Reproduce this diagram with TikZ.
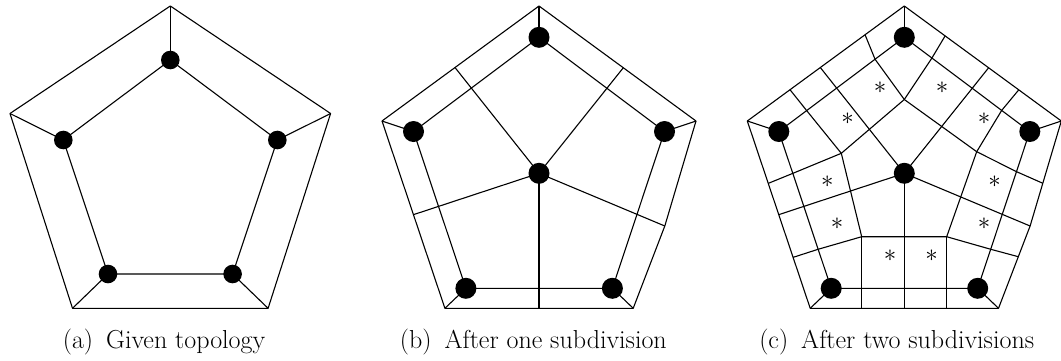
\documentclass[tikz,border=0pt]{standalone}
\usepackage{fontspec}
\usetikzlibrary{calc}
\tikzset{
  edge/.style={line width=1.1pt, line join=round},
  dotA/.style={circle, fill=black, inner sep=0pt, minimum size=18.6pt},
  dotB/.style={circle, fill=black, inner sep=0pt, minimum size=21pt},
  captext/.style={anchor=base, font=\fontsize{26}{30}\selectfont, inner sep=0pt},
  astx/.style={font=\fontsize{26}{30}\selectfont, inner sep=0pt},
}
\newcommand\meshbase[2]{%
  \begin{scope}[xshift=#2pt]
    \coordinate (#1Ot) at (0,6);
    \coordinate (#1OL) at (-157,121);
    \coordinate (#1OR) at (157,121);
    \coordinate (#1OBL) at (-94.1,308.3);
    \coordinate (#1OBR) at (94.2,308.3);
    \coordinate (#1MR) at (125.8,226);
    \coordinate (#1MB) at (0,308.3);
    \coordinate (#1Dt) at (0,37.3);
    \coordinate (#1DL) at (-125.5,131.5);
    \coordinate (#1DR) at (125.5,131.5);
    \coordinate (#1DBL) at (-73.1,288.3);
    \coordinate (#1DBR) at (73.4,288.3);
    \coordinate (#1C) at (0,173.3);
  \end{scope}
  \coordinate (#1MTL) at ($(#1Ot)!0.535!(#1OL)$);
  \coordinate (#1MTR) at ($(#1Ot)!0.537!(#1OR)$);
  \coordinate (#1ML) at ($(#1OL)!0.5!(#1OBL)$);
  \draw[edge] (#1Ot) -- (#1OR) -- (#1MR) -- (#1OBR) -- (#1OBL) -- (#1OL) -- cycle;
  \draw[edge] (#1Dt) -- (#1DR) -- (#1DBR) -- (#1DBL) -- (#1DL) -- cycle;
  \draw[edge] (#1Ot) -- (#1Dt);
  \draw[edge] (#1OL) -- (#1DL);
  \draw[edge] (#1OR) -- (#1DR);
  \draw[edge] (#1OBL) -- (#1DBL);
  \draw[edge] (#1OBR) -- (#1DBR);
  \draw[edge] (#1C) -- (#1MTL);
  \draw[edge] (#1C) -- (#1MTR);
  \draw[edge] (#1C) -- (#1ML);
  \draw[edge] (#1C) -- (#1MR);
  \draw[edge] (#1C) -- (#1MB);
}
\newcommand\meshdots[1]{%
  \node[dotB] (#1dotC) at (#1C) {};
  \node[dotB] (#1dott) at (#1Dt) {};
  \node[dotB] (#1dotL) at (#1DL) {};
  \node[dotB] (#1dotR) at (#1DR) {};
  \node[dotB] (#1dotBL) at (#1DBL) {};
  \node[dotB] (#1dotBR) at (#1DBR) {};
}
\begin{document}
\begin{tikzpicture}[x=1pt,y=-1pt]
\useasboundingbox (0,0) rectangle (1061,360);

% ---------- panel (a)
\begin{scope}[xshift=170.3pt]
  \coordinate (aOt) at (0,6);
  \coordinate (aOL) at (-160.3,113.5);
  \coordinate (aOR) at (160.3,113.5);
  \coordinate (aOBL) at (-97.8,308.3);
  \coordinate (aOBR) at (97.8,308.3);
  \coordinate (aDt) at (0,60);
  \coordinate (aDL) at (-107,140);
  \coordinate (aDR) at (107,140);
  \coordinate (aDBL) at (-62.3,274);
  \coordinate (aDBR) at (62.3,274);
\end{scope}
\draw[edge] (aOt) -- (aOR) -- (aOBR) -- (aOBL) -- (aOL) -- cycle;
\draw[edge] (aDt) -- (aDR) -- (aDBR) -- (aDBL) -- (aDL) -- cycle;
\draw[edge] (aOt) -- (aDt);
\draw[edge] (aOL) -- (aDL);
\draw[edge] (aOR) -- (aDR);
\draw[edge] (aOBL) -- (aDBL);
\draw[edge] (aOBR) -- (aDBR);
\node[dotA] (adott) at (aDt) {};
\node[dotA] (adotL) at (aDL) {};
\node[dotA] (adotR) at (aDR) {};
\node[dotA] (adotBL) at (aDBL) {};
\node[dotA] (adotBR) at (aDBR) {};

% ---------- panel (b)
\meshbase{b}{539}
\meshdots{b}

% ---------- panel (c)
\meshbase{c}{904.3}
\begin{scope}[xshift=904.3pt]
  \coordinate (cF) at (0,99.5);
  \coordinate (cPL) at (-63,153.3);
  \coordinate (cPR) at (72.4,151.7);
  \coordinate (cPBL) at (-42.6,236.7);
  \coordinate (cPBR) at (42.4,236.7);
\end{scope}
\coordinate (cxAi) at ($(cDt)!0.233!(cDL)$);
\coordinate (cxAo) at ($(cOt)!0.25!(cOL)$);
\coordinate (cxBi) at ($(cDt)!0.22!(cDR)$);
\coordinate (cxBo) at ($(cOt)!0.26!(cOR)$);
\coordinate (cxCi) at ($(cDt)!0.778!(cDL)$);
\coordinate (cxCo) at ($(cOt)!0.728!(cOL)$);
\coordinate (cxDi) at ($(cDt)!0.776!(cDR)$);
\coordinate (cxDo) at ($(cOt)!0.729!(cOR)$);
\coordinate (cxEi) at ($(cDL)!0.267!(cDBL)$);
\coordinate (cxEo) at ($(cOL)!0.333!(cOBL)$);
\coordinate (cxGi) at ($(cDL)!0.751!(cDBL)$);
\coordinate (cxGo) at ($(cOL)!0.728!(cOBL)$);
\coordinate (cxHi) at ($(cDR)!0.256!(cDBR)$);
\coordinate (cxHo) at ($(cOR)!0.593!(cMR)$);
\coordinate (cxJi) at ($(cDR)!0.751!(cDBR)$);
\coordinate (cxJo) at ($(cMR)!0.373!(cOBR)$);
\coordinate (cxKo) at (cPBL |- cMB);
\coordinate (cxLo) at (cPBR |- cMB);
\draw[edge] (cF) -- (cPL) -- (cPBL) -- (cPBR) -- (cPR) -- cycle;
\draw[edge] (cF) -- (cxAi) -- (cxAo);
\draw[edge] (cF) -- (cxBi) -- (cxBo);
\draw[edge] (cPL) -- (cxCi) -- (cxCo);
\draw[edge] (cPL) -- (cxEi) -- (cxEo);
\draw[edge] (cPR) -- (cxDi) -- (cxDo);
\draw[edge] (cPR) -- (cxHi) -- (cxHo);
\draw[edge] (cPBL) -- (cxGi) -- (cxGo);
\draw[edge] (cPBL) -- (cxKo);
\draw[edge] (cPBR) -- (cxJi) -- (cxJo);
\draw[edge] (cPBR) -- (cxLo);
\meshdots{c}
\begin{scope}[xshift=904.3pt]
  \node[astx] (s1) at (-24.3,87.3) {$\ast$};
  \node[astx] (s2) at (37.7,87.3) {$\ast$};
  \node[astx] (s3) at (-56.6,118.3) {$\ast$};
  \node[astx] (s4) at (79.9,118.3) {$\ast$};
  \node[astx] (s5) at (-77,182) {$\ast$};
  \node[astx] (s6) at (90.2,182) {$\ast$};
  \node[astx] (s7) at (-67.3,224) {$\ast$};
  \node[astx] (s8) at (79.7,224) {$\ast$};
  \node[astx] (s9) at (-14.3,256) {$\ast$};
  \node[astx] (s10) at (27.4,256) {$\ast$};
\end{scope}

% ---------- captions
\node[captext] (capa) at (164,348.3) {(a)\enskip Given topology};
\node[captext] (capb) at (533.3,348.3) {(b)\enskip After one subdivision};
\node[captext] (capc) at (896.7,348.3) {(c)\enskip After two subdivisions};
\end{tikzpicture}
\end{document}
